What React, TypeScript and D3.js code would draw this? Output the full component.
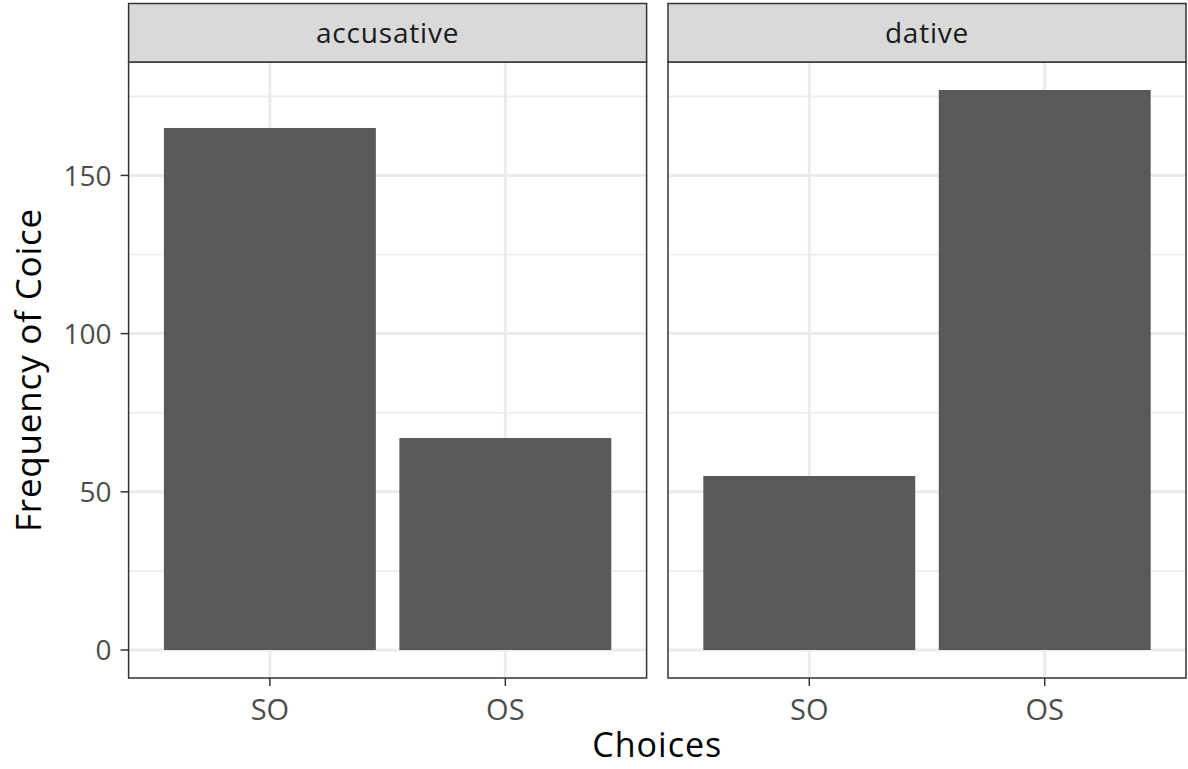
import React from "react";
import * as d3 from "d3";

const facets = ["accusative", "dative"];
const choices = ["SO", "OS"];
const accusativeValues = [165, 67];
const dativeValues = [55, 177];
const yTicks = [0, 50, 100, 150];
const yMinor = [25, 75, 125, 175];
const xTitle = "Choices";
const yTitle = "Frequency of Coice";

const W = 1188;
const H = 769;
const FONT = "'Open Sans', 'Noto Sans', sans-serif";

export default function App() {
  const panelTop = 62;
  const panelBottom = 678;
  const stripTop = 3.5;
  const panelLefts = [128.6, 668];
  const panelW = 518;
  const seriesValues = [accusativeValues, dativeValues];
  const maxV = d3.max(seriesValues.flat()) as number;
  const pad = maxV * 0.05;
  const y = d3.scaleLinear().domain([-pad, maxV + pad]).range([panelBottom, panelTop]);

  return (
    <svg width={W} height={H} style={{ position: "absolute", left: 0, top: 0, background: "#fff" }} fontFamily={FONT}>
      <rect x={0} y={0} width={W} height={H} fill="#fff" />
      {facets.map((f, fi) => {
        const x0 = panelLefts[fi];
        const xc = d3.scaleLinear().domain([0.4, choices.length + 0.6]).range([x0, x0 + panelW]);
        const bw = xc(1.45) - xc(0.55);
        const vals = seriesValues[fi];
        return (
          <g key={f}>
            {yMinor.map((t) => (
              <line key={"mi" + t} x1={x0} x2={x0 + panelW} y1={y(t)} y2={y(t)} stroke="#ebebeb" strokeWidth={1.6} />
            ))}
            {yTicks.map((t) => (
              <line key={"ma" + t} x1={x0} x2={x0 + panelW} y1={y(t)} y2={y(t)} stroke="#ebebeb" strokeWidth={3} />
            ))}
            {choices.map((c, i) => (
              <line key={"vg" + c} x1={xc(i + 1)} x2={xc(i + 1)} y1={panelTop} y2={panelBottom} stroke="#ebebeb" strokeWidth={3} />
            ))}
            {vals.map((v, i) => (
              <rect key={"b" + i} x={xc(i + 1) - bw / 2} width={bw} y={y(v)} height={y(0) - y(v)} fill="#595959" />
            ))}
            <rect x={x0} y={panelTop} width={panelW} height={panelBottom - panelTop} fill="none" stroke="#333333" strokeWidth={1.5} />
            <rect x={x0} y={stripTop} width={panelW} height={panelTop - stripTop} fill="#d9d9d9" stroke="#333333" strokeWidth={1.5} />
            <text x={x0 + panelW / 2} y={(stripTop + panelTop) / 2} dy="0.36em" textAnchor="middle" fontSize={28} fill="#1a1a1a" letterSpacing={0.8}>
              {f}
            </text>
            {choices.map((c, i) => (
              <g key={"xt" + c}>
                <line x1={xc(i + 1)} x2={xc(i + 1)} y1={panelBottom} y2={panelBottom + 8} stroke="#333333" strokeWidth={1.5} />
                <text x={xc(i + 1)} y={719.5} textAnchor="middle" fontSize={29} fill="#4d4d4d">
                  {c}
                </text>
              </g>
            ))}
          </g>
        );
      })}
      {yTicks.map((t) => (
        <g key={"yt" + t}>
          <line x1={panelLefts[0] - 8} x2={panelLefts[0]} y1={y(t)} y2={y(t)} stroke="#333333" strokeWidth={1.5} />
          <text x={panelLefts[0] - 17} y={y(t)} dy="0.36em" textAnchor="end" fontSize={28} fill="#4d4d4d">
            {t}
          </text>
        </g>
      ))}
      <text x={(panelLefts[0] + panelLefts[1] + panelW) / 2} y={757} textAnchor="middle" fontSize={34} fill="#000" letterSpacing={1}>
        {xTitle}
      </text>
      <text
        transform={`translate(41, ${(panelTop + panelBottom) / 2}) rotate(-90)`}
        textAnchor="middle"
        fontSize={35}
        fill="#000"
        letterSpacing={0.8}
      >
        {yTitle}
      </text>
    </svg>
  );
}
